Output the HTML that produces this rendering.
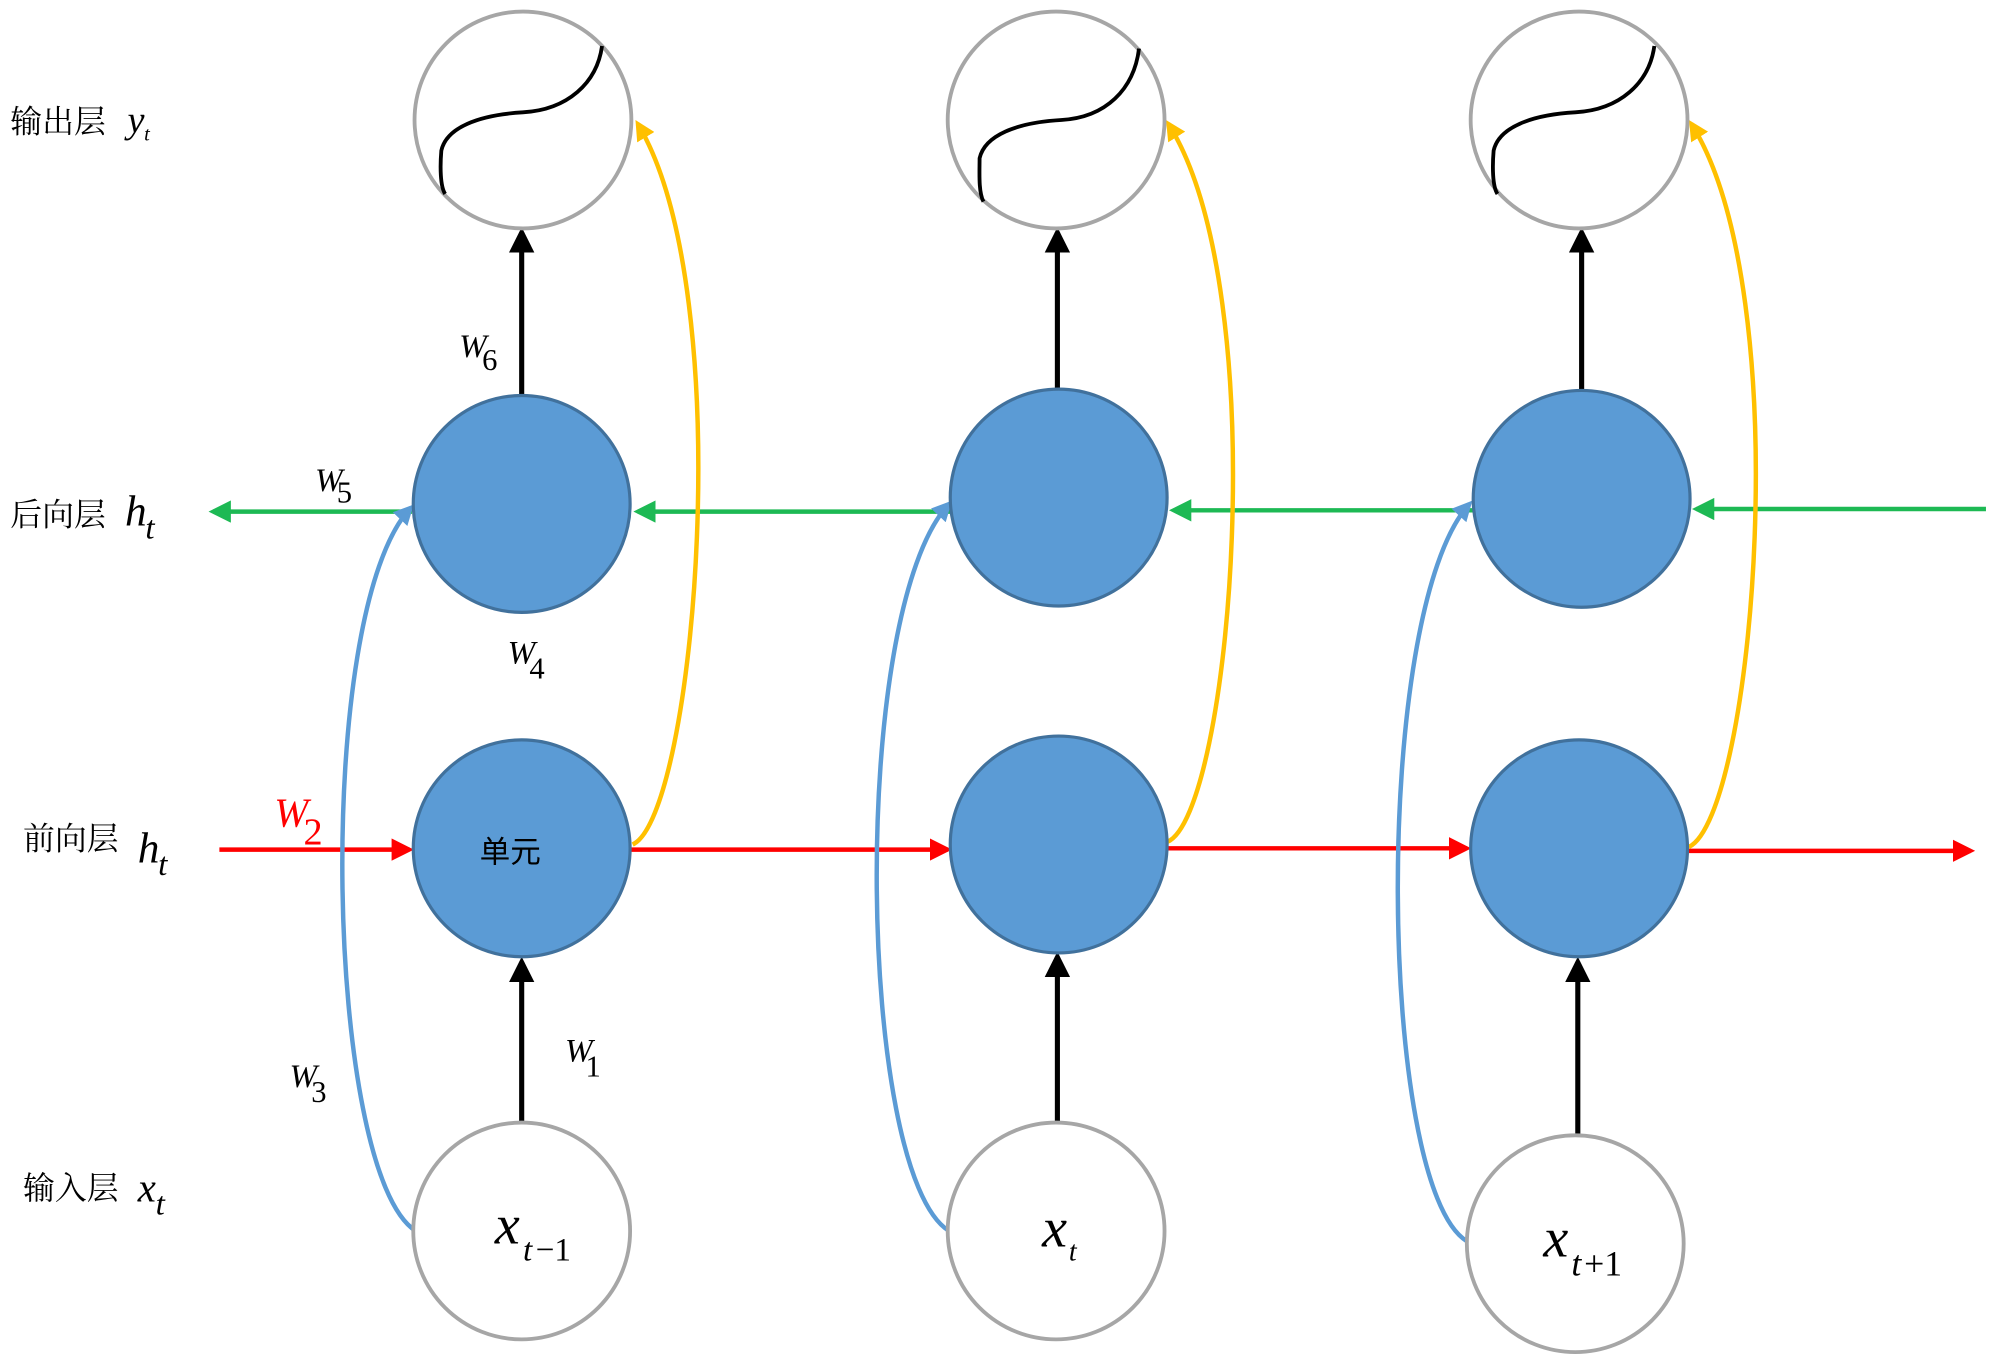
<!DOCTYPE html>
<html><head><meta charset="utf-8"><style>
html,body{margin:0;padding:0;background:#fff;width:2000px;height:1365px;overflow:hidden}
svg{display:block}
.cn{font-family:"Noto Serif CJK SC","Noto Sans CJK SC",serif;font-size:25px;fill:#000}
.it{font-family:"Liberation Serif","DejaVu Serif",serif;font-style:italic;fill:#000}
.sub{font-family:"Liberation Serif","DejaVu Serif",serif;fill:#000}
</style></head><body>
<svg width="2000" height="1365" viewBox="0 0 1568 1070" xmlns="http://www.w3.org/2000/svg">
<defs>
<marker id="ak" markerWidth="5" markerHeight="5" refX="4" refY="2.5" orient="auto" markerUnits="strokeWidth"><path d="M0,0 L5,2.5 L0,5z" fill="#000"/></marker>
<marker id="ag" markerWidth="5" markerHeight="5" refX="4" refY="2.5" orient="auto" markerUnits="strokeWidth"><path d="M0,0 L5,2.5 L0,5z" fill="#1db954"/></marker>
<marker id="ar" markerWidth="5" markerHeight="5" refX="4" refY="2.5" orient="auto" markerUnits="strokeWidth"><path d="M0,0 L5,2.5 L0,5z" fill="#f00"/></marker>
<marker id="ay" markerWidth="4.5" markerHeight="4.5" refX="3.5" refY="2.25" orient="auto" markerUnits="strokeWidth"><path d="M0,0 L4.5,2.25 L0,4.5z" fill="#ffc000"/></marker>
<marker id="ab" markerWidth="4.5" markerHeight="4.5" refX="3.5" refY="2.25" orient="auto" markerUnits="strokeWidth"><path d="M0,0 L4.5,2.25 L0,4.5z" fill="#5b9bd5"/></marker>
</defs>

<g fill="none" stroke-width="3.5">
<line x1="1557" y1="399" x2="1330" y2="399" stroke="#1db954" marker-end="url(#ag)"/>
<line x1="1155" y1="400" x2="920" y2="400" stroke="#1db954" marker-end="url(#ag)"/>
<line x1="745" y1="401" x2="500" y2="401" stroke="#1db954" marker-end="url(#ag)"/>
<line x1="323" y1="401" x2="167" y2="401" stroke="#1db954" marker-end="url(#ag)"/>
<line x1="172" y1="666" x2="321" y2="666" stroke="#f00" marker-end="url(#ar)"/>
<line x1="495" y1="666" x2="743" y2="666" stroke="#f00" marker-end="url(#ar)"/>
<line x1="915" y1="665" x2="1150" y2="665" stroke="#f00" marker-end="url(#ar)"/>
<line x1="1324" y1="667" x2="1545" y2="667" stroke="#f00" marker-end="url(#ar)"/>
<line x1="409" y1="310" x2="409" y2="182" stroke="#000" stroke-width="4" marker-end="url(#ak)"/>
<line x1="829" y1="305" x2="829" y2="182" stroke="#000" stroke-width="4" marker-end="url(#ak)"/>
<line x1="1240" y1="306" x2="1240" y2="182" stroke="#000" stroke-width="4" marker-end="url(#ak)"/>
<line x1="409" y1="880" x2="409" y2="754" stroke="#000" stroke-width="4" marker-end="url(#ak)"/>
<line x1="829" y1="880" x2="829" y2="750" stroke="#000" stroke-width="4" marker-end="url(#ak)"/>
<line x1="1237" y1="890" x2="1237" y2="754" stroke="#000" stroke-width="4" marker-end="url(#ak)"/>
<path d="M496,662 C545,640 580,230 500,97" stroke="#ffc000" marker-end="url(#ay)"/>
<path d="M915,660 C965,640 1000,230 916,97" stroke="#ffc000" marker-end="url(#ay)"/>
<path d="M1324,664 C1375,640 1410,230 1326,97" stroke="#ffc000" marker-end="url(#ay)"/>
<path d="M326,965 C255,920 245,480 322,398" stroke="#5b9bd5" marker-end="url(#ab)"/>
<path d="M744,965 C672,920 665,480 744,395" stroke="#5b9bd5" marker-end="url(#ab)"/>
<path d="M1150,973 C1080,930 1075,480 1152,395" stroke="#5b9bd5" marker-end="url(#ab)"/>
</g>

<g fill="#fff" stroke="#a6a6a6" stroke-width="3">
<circle cx="410" cy="94" r="85"/><circle cx="828" cy="94" r="85"/><circle cx="1238" cy="94" r="85"/>
<circle cx="409" cy="965" r="85"/><circle cx="828" cy="965" r="85"/><circle cx="1235" cy="975" r="85"/>
</g>
<g fill="none" stroke="#000" stroke-width="3">
<path d="M349,152 C345,146 345,130 346,118 C350,100 375,90 410,88 C445,86 468,65 472,36"/>
<path d="M771,158 C767,150 768,135 768,124 C772,106 797,96 832,94 C867,92 889,70 893,38"/>
<path d="M1174,152 C1170,146 1170,130 1171,118 C1175,100 1200,90 1235,88 C1270,86 1293,65 1297,36"/>
</g>

<g fill="#5b9bd5" stroke="#41719c" stroke-width="2.5">
<circle cx="409" cy="395" r="85"/><circle cx="830" cy="390" r="85"/><circle cx="1240" cy="391" r="85"/>
<circle cx="409" cy="665" r="85"/><circle cx="830" cy="662" r="85"/><circle cx="1238" cy="665" r="85"/>
</g>
<text x="400" y="676" font-size="24" text-anchor="middle" style="font-family:'Noto Sans CJK SC',sans-serif">单元</text>

<text x="8" y="104" class="cn">输出层</text><text x="100" y="104" class="it" font-size="30">y</text><text x="113" y="110" class="it" font-size="16">t</text>
<text x="8" y="412" class="cn">后向层</text><text x="98" y="412" class="it" font-size="34">h</text><text x="114" y="422" class="it" font-size="26">t</text>
<text x="18" y="666" class="cn">前向层</text><text x="108" y="676" class="it" font-size="34">h</text><text x="124" y="686" class="it" font-size="26">t</text>
<text x="18" y="940" class="cn">输入层</text><text x="108" y="942" class="it" font-size="32">x</text><text x="122" y="952" class="it" font-size="26">t</text>

<text x="360" y="280" class="it" font-size="26">W</text><text x="378" y="290" class="sub" font-size="24">6</text>
<text x="247" y="385" class="it" font-size="26">W</text><text x="264" y="394" class="sub" font-size="24">5</text>
<text x="398" y="520" class="it" font-size="26">W</text><text x="415" y="532" class="sub" font-size="24">4</text>
<text x="215" y="648" class="it" font-size="32" style="fill:#f00">W</text><text x="238" y="662" class="sub" font-size="30" style="fill:#f00">2</text>
<text x="443" y="832" class="it" font-size="26">W</text><text x="459" y="844" class="sub" font-size="24">1</text>
<text x="227" y="852" class="it" font-size="26">W</text><text x="244" y="864" class="sub" font-size="24">3</text>

<text x="388" y="975" class="it" font-size="44">x</text><text x="410" y="988" class="it" font-size="26">t</text><text x="420" y="988" class="sub" font-size="26">−1</text>
<text x="817" y="977" class="it" font-size="44">x</text><text x="838" y="988" class="it" font-size="22">t</text>
<text x="1210" y="985" class="it" font-size="44">x</text><text x="1232" y="1000" class="it" font-size="28">t</text><text x="1242" y="1000" class="sub" font-size="28">+1</text>
</svg>
</body></html>
